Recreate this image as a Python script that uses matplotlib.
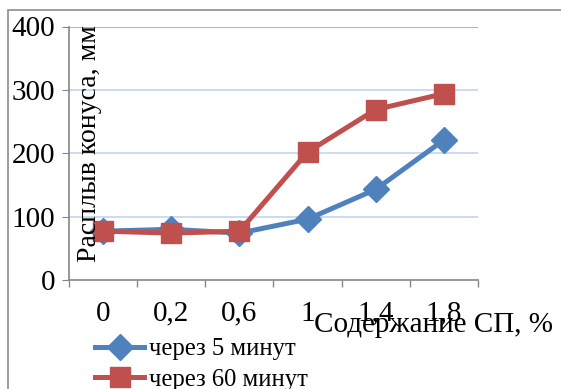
import matplotlib
matplotlib.use("Agg")
import matplotlib.pyplot as plt
from matplotlib.patches import Rectangle

plt.rcParams["font.family"] = ["Liberation Serif", "DejaVu Serif"]

categories = ["0", "0,2", "0,6", "1", "1,4", "1,8"]
min5 = [77, 80, 74, 96, 143, 221]
min60 = [77, 74, 77, 202, 269, 294]
yticks = [0, 100, 200, 300, 400]

BLUE = "#4F81BD"
RED = "#C0504D"
W, H = 561, 389

fig = plt.figure(figsize=(W / 100, H / 100), dpi=100)
# outer chart frame (runs off the right/bottom edge)
fig.patches.append(Rectangle((8 / W, -0.1), 1.2, 1 - 10 / H + 0.1, transform=fig.transFigure,
                             fill=False, edgecolor="#8c8c8c", linewidth=1.2))

ax = fig.add_axes([69 / W, 1 - 280 / H, 409 / W, (280 - 26.5) / H])
x = list(range(len(categories)))
ax.plot(x, min5, color=BLUE, lw=3.6, marker="D", ms=13, mec=BLUE, mfc=BLUE,
        label="через 5 минут", zorder=3)
ax.plot(x, min60, color=RED, lw=3.6, marker="s", ms=14, mec=RED, mfc=RED,
        label="через 60 минут", zorder=4)

ax.set_xlim(-0.5, len(categories) - 0.5)
ax.set_ylim(0, 400)
ax.set_yticks(yticks)
for v in yticks[1:]:
    ax.axhline(v, color="#8EB4E3" if v == 400 else "#C6D9F1", lw=1.3, zorder=1)

ax.set_xticks(x)
ax.set_xticklabels(categories)
ax.set_xticks([i - 0.5 for i in range(len(categories) + 1)], minor=True)
ax.tick_params(axis="x", which="major", length=0, pad=15, labelsize=21)
ax.tick_params(axis="x", which="minor", length=5, color="#868686", width=1)
ax.tick_params(axis="y", length=5, color="#868686", pad=5, labelsize=21)
for s in ("top", "right"):
    ax.spines[s].set_visible(False)
for s in ("left", "bottom"):
    ax.spines[s].set_color("#868686")
    ax.spines[s].set_linewidth(1.2)

fig.text(90 / W, 1 - 143.5 / H, "Расплыв конуса, мм", rotation=90, ha="center",
         va="center", fontsize=20)
fig.text(433 / W, 1 - 325 / H, "Содержание СП, %", ha="center", va="center", fontsize=21)

ax.legend(loc="upper left", bbox_to_anchor=(95 / W, 1 - 338 / H),
          bbox_transform=fig.transFigure, frameon=False, fontsize=17.7,
          borderpad=0, borderaxespad=0, handlelength=2.0, handletextpad=0.2,
          labelspacing=0.35)

fig.savefig("out.png", dpi=100)
